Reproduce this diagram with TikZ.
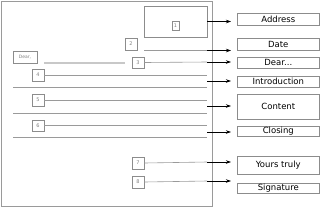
\documentclass[tikz,border=0pt]{standalone}
\usepackage{fontspec}
\setmainfont{DejaVu Sans}
\usepackage{tikz}
\usetikzlibrary{arrows.meta,positioning,calc}

\definecolor{pagegray}{HTML}{9A9A9A}
\definecolor{boxgray}{HTML}{8C8C8C}
\definecolor{faintgray}{HTML}{C8C8C8}

\begin{document}
\begin{tikzpicture}[x=1pt,y=-1pt,>={Stealth[length=5pt,width=3.5pt]},
  every node/.style={font=\fontsize{8.5}{9}\selectfont},
  numbox/.style={draw=boxgray,line width=0.5pt,inner sep=0pt,minimum width=12pt,minimum height=12pt,font=\fontsize{5}{5}\selectfont,text=gray},
  partbox/.style={draw=boxgray,line width=0.6pt,inner sep=0pt,minimum width=82pt,anchor=west},
  pageline/.style={draw=pagegray,line width=0.6pt},
  link/.style={->,line width=0.7pt,shorten >=6pt}]
  \useasboundingbox (0,0) rectangle (320,207);
  % the letter sheet
  \draw[pageline] (1,1) rectangle (212,206);
  \node[draw=boxgray,line width=0.6pt,minimum width=63pt,minimum height=31pt,inner sep=0pt] (addr) at (175.5,21.5) {};
  \node[numbox,minimum width=7pt,minimum height=9pt] (n1) at (175.5,25.5) {1};
  \node[numbox] (n2) at (131,44) {2};
  \node[numbox,minimum height=11pt] (n3) at (138,62.5) {3};
  \node[numbox] (n4) at (38,75) {4};
  \node[numbox] (n5) at (38,100) {5};
  \node[numbox,minimum height=11pt] (n6) at (38,125.5) {6};
  \node[numbox] (n7) at (138,163) {7};
  \node[numbox] (n8) at (138,182) {8};
  \node[numbox,minimum width=24pt,font=\fontsize{4.5}{5}\selectfont] (dear) at (25,57) {Dear,};
  \draw[faintgray,line width=1.2pt] (44,63) -- (125,63);
  \draw[pageline] (144,50.5) -- (207,50.5);
  \foreach \y in {87,113,137}
    \draw[pageline] (13,\y) -- (207,\y);
  % labels on the right
  \node[partbox,minimum height=12pt] (address) at (237,19) {Address};
  \node[partbox,minimum height=12pt] (date) at (237,44) {Date};
  \node[partbox,minimum height=11pt] (dearlbl) at (237,62.5) {Dear...};
  \node[partbox,minimum height=11pt] (intro) at (237,81.5) {Introduction};
  \node[partbox,minimum height=25pt] (content) at (237,106.5) {Content};
  \node[partbox,minimum height=10pt] (closing) at (237,131.5) {Closing};
  \node[partbox,minimum height=18pt] (yours) at (237,165) {Yours truly};
  \node[partbox,minimum height=10pt] (sig) at (237,188) {Signature};
  % ends of the lines at the sheet edge
  \coordinate (e2) at (207,50.5);
  \coordinate (e3) at (207,62);
  \coordinate (e4) at (207,81);
  \coordinate (e5) at (207,106);
  \coordinate (e6) at (207,132);
  \coordinate (e7) at (207,162);
  \coordinate (e8) at (207,181);
  \draw[pageline] (n3.east) -- (e3);
  \draw[pageline] (n4.east) -- (n4.east -| e4);
  \draw[pageline] (n5.east) -- (n5.east -| e5);
  \draw[pageline] (n6.east) -- (n6.east -| e6);
  \draw[pageline] (n7.east) -- (e7);
  \draw[pageline] (n8.east) -- (e8);
  \draw[link] (addr.east) -- (addr.east -| address.west);
  \draw[link] (e2) -- (e2 -| date.west);
  \draw[link] (e3) -- (e3 -| dearlbl.west);
  \draw[link] (e4) -- (e4 -| intro.west);
  \draw[link] (e5) -- (e5 -| content.west);
  \draw[link] (e6) -- (e6 -| closing.west);
  \draw[link] (e7) -- (e7 -| yours.west);
  \draw[link] (e8) -- (e8 -| sig.west);
\end{tikzpicture}
\end{document}
